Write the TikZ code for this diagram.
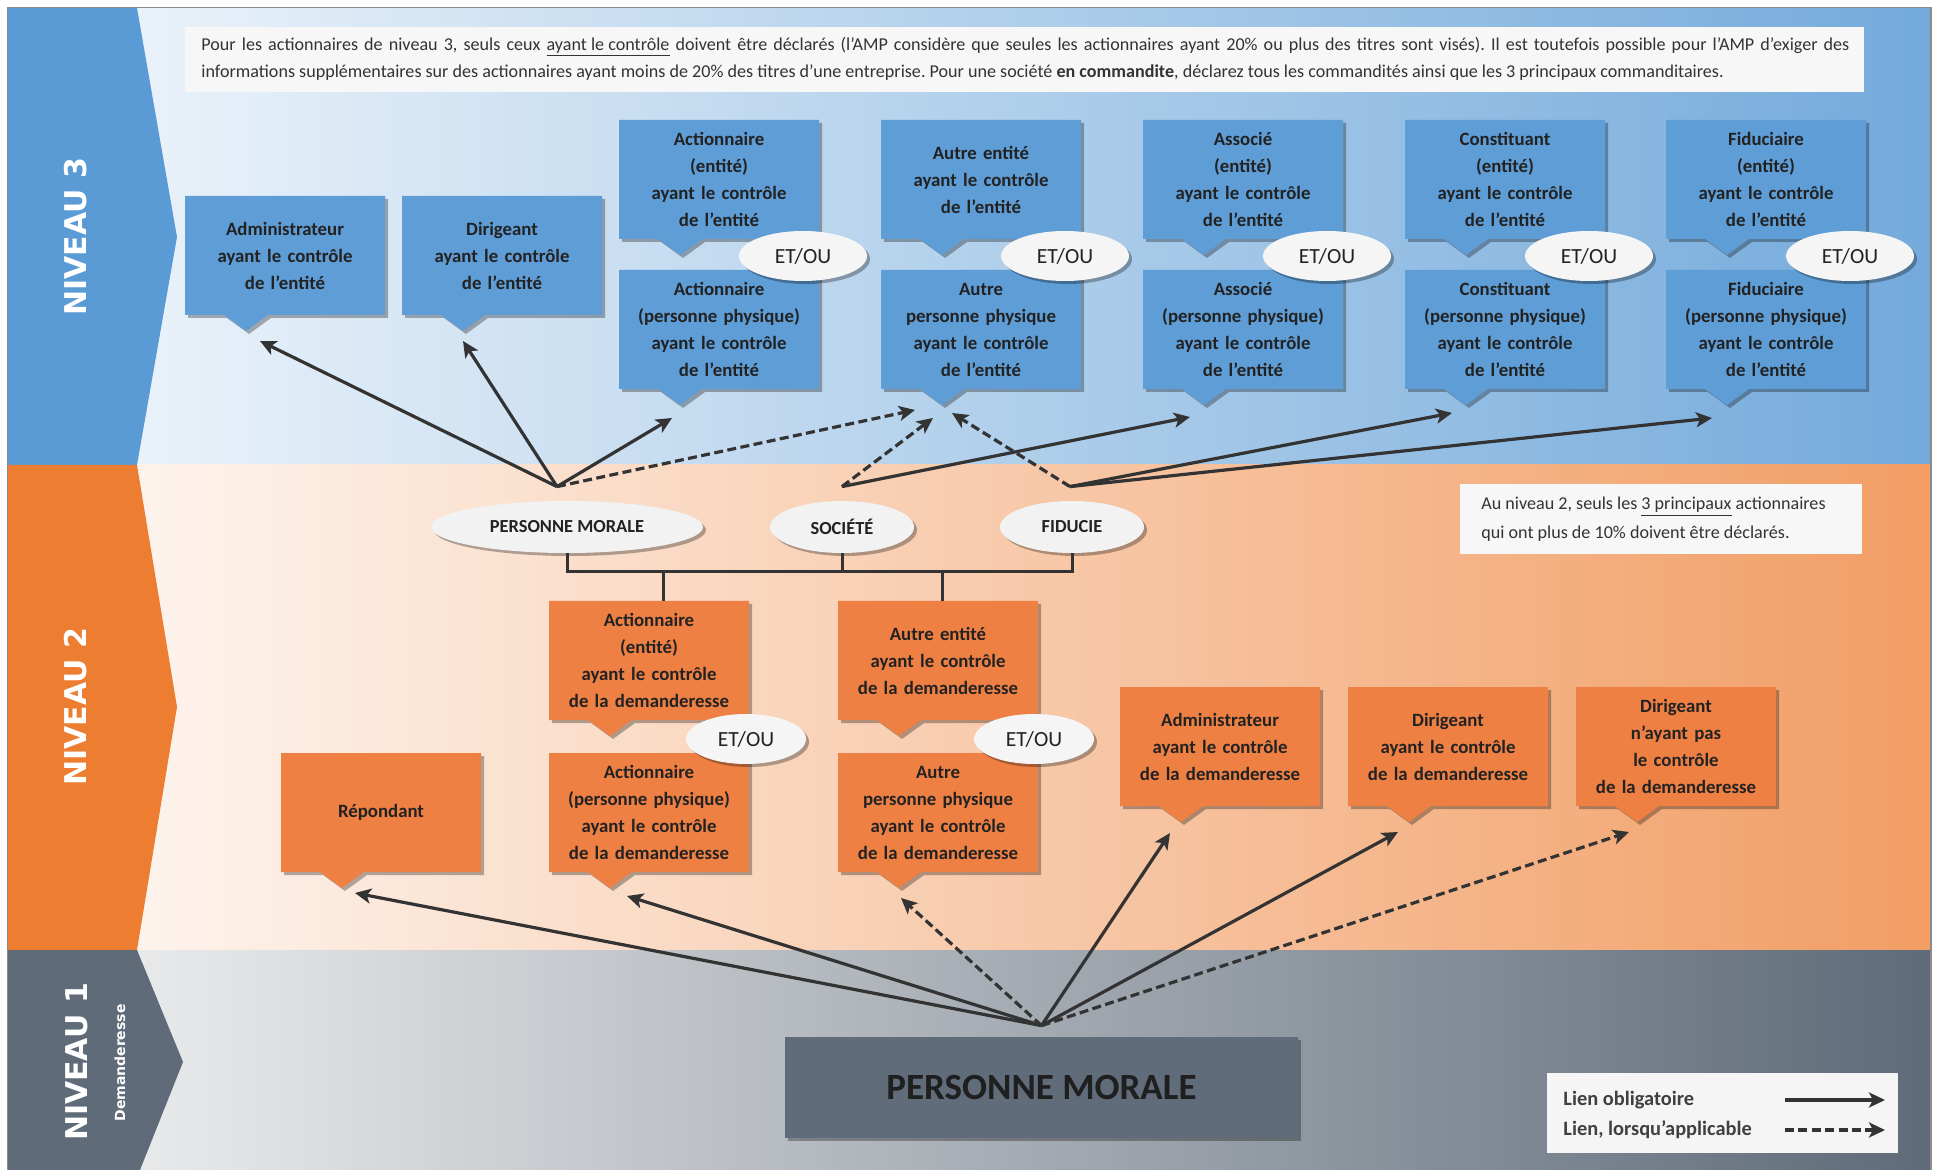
\documentclass[tikz,border=0pt]{standalone}
\usepackage{fontspec}
\setmainfont{Carlito}
\newfontfamily\nivfont{DejaVu Sans}
\usetikzlibrary{arrows.meta,shadows,calc,shapes.geometric}
\frenchspacing
\definecolor{bandblue}{HTML}{5B9BD5}
\definecolor{bandorange}{HTML}{ED7D31}
\definecolor{bandgray}{HTML}{5F6B79}
\definecolor{boxblue}{HTML}{5E9DD6}
\definecolor{boxorange}{HTML}{EE8044}
\definecolor{pmgray}{HTML}{606C7A}
\definecolor{txt}{HTML}{222222}
\definecolor{notetxt}{HTML}{333333}
\definecolor{linec}{HTML}{333333}
\tikzset{
  sh/.style={drop shadow={shadow xshift=1.5pt,shadow yshift=-1.5pt,opacity=0.3,fill=black}},
  boxtxt/.style={inner sep=0pt,text width=100pt,minimum height=59.5pt,align=center,text=txt,
    font=\bfseries\fontsize{9.4}{13.5}\selectfont},
  niv/.style={rotate=90,text=white,inner sep=0pt,font=\nivfont\bfseries\fontsize{15}{15}\selectfont},
  etou/.style={ellipse,fill=white!96!black,sh,inner sep=0pt,minimum width=64pt,minimum height=25pt,
    text=txt,font=\fontsize{10.8}{12}\selectfont},
  ell/.style={ellipse,fill=white!95!black,sh,inner sep=0pt,minimum height=26pt,
    text=txt,font=\bfseries\fontsize{9.2}{11}\selectfont},
  notetext/.style={anchor=west,inner sep=0pt,text=notetxt,font=\fontsize{9.05}{11}\selectfont},
  link/.style={draw=linec,line width=1.6pt,-{Stealth[length=8pt,width=7.5pt,inset=2pt]}},
  opt/.style={link,dash pattern=on 4.5pt off 2.2pt},
  brack/.style={draw=linec,line width=1.5pt},
}
\newcommand\callout[5]{%
  \path[fill=#4,sh] (#2,#3) -- ({#2+200},#3) -- ({#2+200},{#3+119}) -- ({#2+83},{#3+119})
    -- ({#2+61},{#3+135}) -- ({#2+39},{#3+119}) -- (#2,{#3+119}) -- cycle;
  \node[boxtxt] (#1) at ({#2+100},{#3+59.5}) {#5};
  \coordinate (#1-tip) at ({#2+61},{#3+135});
}
\begin{document}
\begin{tikzpicture}[x=0.5pt,y=-0.5pt]
\useasboundingbox (0,0) rectangle (1938,1170);
% backgrounds
\fill[left color=bandblue!8!white, right color=bandblue!85!white] (8,8) rectangle (1931,465);
\fill[left color=white!96!bandorange, right color=bandorange!75!white] (8,465) rectangle (1931,950);
\fill[left color=white!95!black, right color=bandgray] (8,950) rectangle (1931,1170);
\draw[black!45,line width=0.8pt] (7.5,1170) -- (7.5,7.5) -- (1931,7.5) -- (1931,1170);
% bands
\fill[bandblue] (8,8) -- (137,8) -- (177,237) -- (137,465) -- (8,465) -- cycle;
\fill[bandorange] (8,465) -- (137,465) -- (177,707) -- (137,950) -- (8,950) -- cycle;
\fill[bandgray] (8,950) -- (137,950) -- (183,1062) -- (140,1170) -- (8,1170) -- cycle;
\node[niv] (niv3) at (76,237) {NIVEAU 3};
\node[niv] (niv2) at (76,707) {NIVEAU 2};
\node[niv] (niv1) at (77,1062) {NIVEAU 1};
\node[rotate=90,text=white,inner sep=0pt,font=\nivfont\bfseries\fontsize{7}{7}\selectfont] (dem) at (120,1063) {Demanderesse};
% notes
\node[fill=white!97!black,inner sep=0pt,minimum width=839.5pt,minimum height=32.5pt] (note3) at (1024.5,59.5) {};
\node[notetext] (note3a) at (201,47) {\makebox[824pt][s]{Pour les actionnaires de niveau 3, seuls ceux \underline{ayant le contrôle} doivent être déclarés (l’AMP considère que seules les actionnaires ayant 20\% ou plus des titres sont visés). Il est toutefois possible pour l’AMP d’exiger des}};
\node[notetext] (note3b) at (201,73) {informations supplémentaires sur des actionnaires ayant moins de 20\% des titres d’une entreprise. Pour une société \textbf{en commandite}, déclarez tous les commandités ainsi que les 3 principaux commanditaires.};
\node[fill=white!97!black,inner sep=0pt,minimum width=201pt,minimum height=35pt] (note2) at (1661,519.5) {};
\node[notetext] (note2a) at (1481,507) {Au niveau 2, seuls les \underline{3 principaux} actionnaires};
\node[notetext] (note2b) at (1481,534) {qui ont plus de 10\% doivent être déclarés.};
% level 3 boxes
\callout{adm3}{185}{196}{boxblue}{Administrateur\\ayant le contrôle\\de l’entité}
\callout{dir3}{402}{196}{boxblue}{Dirigeant\\ayant le contrôle\\de l’entité}
\callout{actE3}{619}{120}{boxblue}{Actionnaire\\(entité)\\ayant le contrôle\\de l’entité}
\callout{actP3}{619}{270}{boxblue}{Actionnaire\\(personne physique)\\ayant le contrôle\\de l’entité}
\callout{autE3}{881}{120}{boxblue}{Autre entité\\ayant le contrôle\\de l’entité}
\callout{autP3}{881}{270}{boxblue}{Autre\\personne physique\\ayant le contrôle\\de l’entité}
\callout{assE3}{1143}{120}{boxblue}{Associé\\(entité)\\ayant le contrôle\\de l’entité}
\callout{assP3}{1143}{270}{boxblue}{Associé\\(personne physique)\\ayant le contrôle\\de l’entité}
\callout{conE3}{1405}{120}{boxblue}{Constituant\\(entité)\\ayant le contrôle\\de l’entité}
\callout{conP3}{1405}{270}{boxblue}{Constituant\\(personne physique)\\ayant le contrôle\\de l’entité}
\callout{fidE3}{1666}{120}{boxblue}{Fiduciaire\\(entité)\\ayant le contrôle\\de l’entité}
\callout{fidP3}{1666}{270}{boxblue}{Fiduciaire\\(personne physique)\\ayant le contrôle\\de l’entité}
\node[etou] (eo1) at (803,256) {ET/OU};
\node[etou] (eo2) at (1065,256) {ET/OU};
\node[etou] (eo3) at (1327,256) {ET/OU};
\node[etou] (eo4) at (1589,256) {ET/OU};
\node[etou] (eo5) at (1850,256) {ET/OU};
% level 2
\node[ell,minimum width=136pt] (pmE) at (567,527) {PERSONNE MORALE};
\node[ell,minimum width=72pt] (socE) at (842,527) {SOCIÉTÉ};
\node[ell,minimum width=72pt] (fidE) at (1072,527) {FIDUCIE};
\callout{actE2}{549}{601}{boxorange}{Actionnaire\\(entité)\\ayant le contrôle\\de la demanderesse}
\callout{actP2}{549}{753}{boxorange}{Actionnaire\\(personne physique)\\ayant le contrôle\\de la demanderesse}
\callout{autE2}{838}{601}{boxorange}{Autre entité\\ayant le contrôle\\de la demanderesse}
\callout{autP2}{838}{753}{boxorange}{Autre\\personne physique\\ayant le contrôle\\de la demanderesse}
\callout{rep2}{281}{753}{boxorange}{Répondant}
\callout{adm2}{1120}{687}{boxorange}{Administrateur\\ayant le contrôle\\de la demanderesse}
\callout{dir2}{1348}{687}{boxorange}{Dirigeant\\ayant le contrôle\\de la demanderesse}
\callout{dirn2}{1576}{687}{boxorange}{Dirigeant\\n’ayant pas\\le contrôle\\de la demanderesse}
\node[etou,minimum width=60pt] (eo6) at (746,739) {ET/OU};
\node[etou,minimum width=60pt] (eo7) at (1034,739) {ET/OU};
% bracket
\coordinate (brk) at (0,572);
\draw[brack] (pmE.south) |- (fidE.south |- brk) -- (fidE.south);
\draw[brack] (socE.south) -- (socE.south |- brk);
\coordinate (d1) at ($(actE2.north)+(14,0)$);
\coordinate (d2) at ($(autE2.north)+(4,0)$);
\draw[brack] (d1 |- brk) -- (d1);
\draw[brack] (d2 |- brk) -- (d2);
% level 1
\node[fill=pmgray,sh,inner sep=0pt,minimum width=256.5pt,minimum height=50.5pt,text=black!88,
  font=\bfseries\fontsize{18.5}{20}\selectfont] (pm1) at (1041.5,1087.5) {PERSONNE MORALE};
% legend
\node[fill=white!96!black,inner sep=0pt,minimum width=175.5pt,minimum height=40pt] (legend) at (1722.5,1113) {};
\node[anchor=west,inner sep=0pt,text=black!75,font=\bfseries\fontsize{10.2}{12}\selectfont] (legA) at (1563,1100) {Lien obligatoire};
\node[anchor=west,inner sep=0pt,text=black!75,font=\bfseries\fontsize{10.2}{12}\selectfont] (legB) at (1563,1130) {Lien, lorsqu’applicable};
\coordinate (la1) at (1785,1100); \coordinate (la2) at (1885,1100);
\coordinate (lb1) at (1785,1130); \coordinate (lb2) at (1885,1130);
\draw[link] (la1) -- (la2);
\draw[opt] (lb1) -- (lb2);
% arrows level 1 -> level 2
\coordinate (pm1o) at ($(pm1.north)+(0,-11)$);
\draw[link] (pm1o) -- ($(rep2-tip)+(13,5)$);
\draw[link] (pm1o) -- ($(actP2-tip)+(17,8)$);
\draw[opt] (pm1o) -- ($(autP2-tip)+(2,10)$);
\draw[link] (pm1o) -- ($(adm2-tip)+(-11,11)$);
\draw[link] (pm1o) -- ($(dir2-tip)+(-11,10)$);
\draw[opt] (pm1o) -- ($(dirn2-tip)+(-8,10)$);
% arrows level 2 -> level 3
\coordinate (pmEo) at ($(pmE.north)+(-10,-14)$);
\coordinate (socEo) at ($(socE.north)+(0,-14)$);
\coordinate (fidEo) at ($(fidE.north)+(-2,-14)$);
\draw[link] (pmEo) -- ($(adm3-tip)+(14,10)$);
\draw[link] (pmEo) -- ($(dir3-tip)+(0,10)$);
\draw[link] (pmEo) -- ($(actP3-tip)+(-8,13)$);
\draw[opt] (pmEo) -- ($(autP3-tip)+(-27,5)$);
\draw[opt] (socEo) -- ($(autP3-tip)+(-9,13)$);
\draw[link] (socEo) -- ($(assP3-tip)+(-14,12)$);
\draw[opt] (fidEo) -- ($(autP3-tip)+(10,8)$);
\draw[link] (fidEo) -- ($(conP3-tip)+(-14,8)$);
\draw[link] (fidEo) -- ($(fidP3-tip)+(-15,13)$);
\end{tikzpicture}
\end{document}
